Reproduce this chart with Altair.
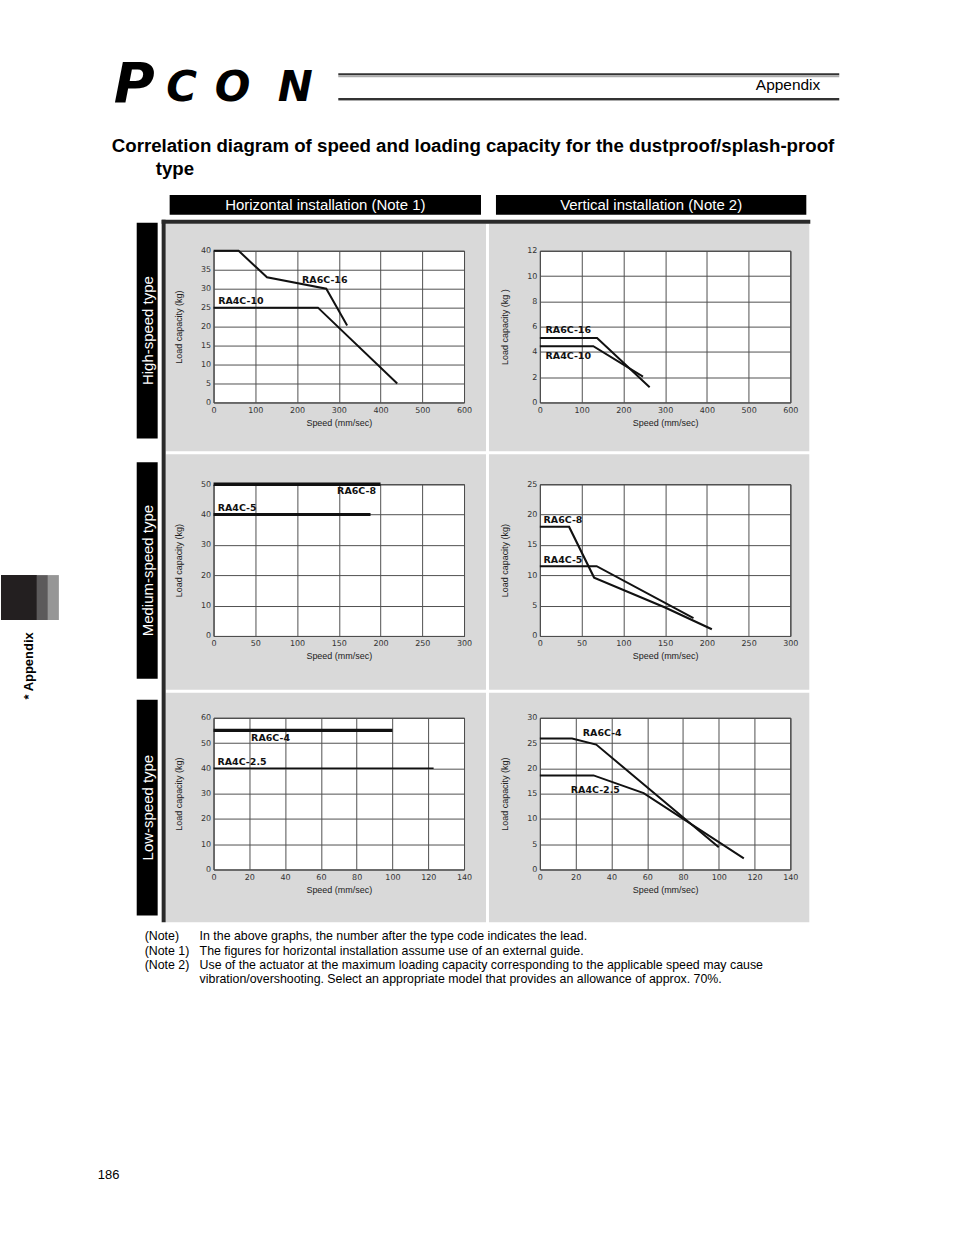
import altair as alt
import pandas as pd

# ---------------- data ----------------
X_TICKS_HIGH = [0, 100, 200, 300, 400, 500, 600]
X_TICKS_MED = [0, 50, 100, 150, 200, 250, 300]
X_TICKS_LOW = [0, 20, 40, 60, 80, 100, 120, 140]
Y_TICKS_HIGH_H = [0, 5, 10, 15, 20, 25, 30, 35, 40]
Y_TICKS_HIGH_V = [0, 2, 4, 6, 8, 10, 12]
Y_TICKS_MED_H = [0, 10, 20, 30, 40, 50]
Y_TICKS_MED_V = [0, 5, 10, 15, 20, 25]
Y_TICKS_LOW_H = [0, 10, 20, 30, 40, 50, 60]
Y_TICKS_LOW_V = [0, 5, 10, 15, 20, 25, 30]

# High-speed type, horizontal installation
HH_RA6C16_SPEED = [0, 60, 128, 270, 320]
HH_RA6C16_LOAD = [40, 40, 33, 30, 20.3]
HH_RA4C10_SPEED = [0, 250, 440]
HH_RA4C10_LOAD = [25, 25, 5]
# High-speed type, vertical installation
HV_RA6C16_SPEED = [0, 137, 263]
HV_RA6C16_LOAD = [5.1, 5.1, 1.2]
HV_RA4C10_SPEED = [0, 128, 247]
HV_RA4C10_LOAD = [4.45, 4.45, 2.05]
# Medium-speed type, horizontal installation
MH_RA6C8_SPEED = [0, 200]
MH_RA6C8_LOAD = [50, 50]
MH_RA4C5_SPEED = [0, 188]
MH_RA4C5_LOAD = [40, 40]
# Medium-speed type, vertical installation
MV_RA6C8_SPEED = [0, 35, 65, 150, 206]
MV_RA6C8_LOAD = [18, 18, 9.6, 4.7, 1.1]
MV_RA4C5_SPEED = [0, 68, 184]
MV_RA4C5_LOAD = [11.5, 11.5, 2.95]
# Low-speed type, horizontal installation
LH_RA6C4_SPEED = [0, 100]
LH_RA6C4_LOAD = [55, 55]
LH_RA4C25_SPEED = [0, 123]
LH_RA4C25_LOAD = [40, 40]
# Low-speed type, vertical installation
LV_RA6C4_SPEED = [0, 18, 31.5, 100]
LV_RA6C4_LOAD = [25.9, 25.9, 24.7, 4.4]
LV_RA4C25_SPEED = [0, 30, 58, 114]
LV_RA4C25_LOAD = [18.6, 18.6, 15.1, 2.2]

# series label names and their anchor points (data units)
HH_NAMES = ["RA6C-16", "RA4C-10"]
HH_LABEL_SPEED = [212, 11]
HH_LABEL_LOAD = [32.4, 26.8]
HV_NAMES = ["RA6C-16", "RA4C-10"]
HV_LABEL_SPEED = [13.6, 13.6]
HV_LABEL_LOAD = [5.7, 3.65]
MH_NAMES = ["RA6C-8", "RA4C-5"]
MH_LABEL_SPEED = [148, 5]
MH_LABEL_LOAD = [47.8, 42.3]
MV_NAMES = ["RA6C-8", "RA4C-5"]
MV_LABEL_SPEED = [4.4, 4.4]
MV_LABEL_LOAD = [19.1, 12.5]
LH_NAMES = ["RA6C-4", "RA4C-2.5"]
LH_LABEL_SPEED = [21, 2.2]
LH_LABEL_LOAD = [52.1, 42.4]
LV_NAMES = ["RA6C-4", "RA4C-2.5"]
LV_LABEL_SPEED = [24, 17.3]
LV_LABEL_LOAD = [27, 15.7]

# ---------------- layout ----------------
ONE = pd.DataFrame({"k": [0]})
PW, PH = 251, 152
COL_GAP, ROW_GAP = 76, 82
DECO_H = 1
# the decoration cell sits one grid row above the first panel (page x 213, y 249)
OX, OY = 213, 249 - ROW_GAP - DECO_H
PANEL_GRAY = "#d9d9d9"
FONT = "Liberation Sans"
HIDDEN_VIEW = alt.ViewBackground(fill="transparent", stroke="transparent")
PLOT_VIEW = alt.ViewBackground(fill="white", stroke="#222", strokeWidth=1)


def rect(x1, y1, x2, y2, color):
    return alt.Chart(ONE).mark_rect(color=color, strokeWidth=0).encode(
        x=alt.value(x1 - OX), x2=alt.value(x2 - OX),
        y=alt.value(y1 - OY), y2=alt.value(y2 - OY))


def txt(s, x, y, size, color="#000", weight="normal", align="left",
        baseline="alphabetic", angle=0, font=FONT, style="normal"):
    kw = dict(text=s, fontSize=size, color=color, fontWeight=weight, align=align,
              baseline=baseline, font=font, fontStyle=style)
    if angle:
        kw["angle"] = angle
    return alt.Chart(ONE).mark_text(**kw).encode(x=alt.value(x - OX), y=alt.value(y - OY))


def xaxis(ticks):
    return alt.Axis(values=ticks, title="Speed (mm/sec)", grid=True, gridColor="#505050",
                    gridWidth=1, ticks=False, domain=False, labelFlush=False,
                    labelOverlap=False, labelFont="DejaVu Sans", labelFontSize=8,
                    labelColor="#333", labelPadding=4, titleFont=FONT, titleFontSize=9,
                    titleFontWeight="normal", titleColor="#222", titlePadding=4)


def yaxis(ticks, title):
    return alt.Axis(values=ticks, title=title, grid=True, gridColor="#505050",
                    gridWidth=1, ticks=False, domain=False, labelFlush=False,
                    labelOverlap=False, labelFont="DejaVu Sans", labelFontSize=8,
                    labelColor="#333", labelPadding=3, titleFont=FONT, titleFontSize=9,
                    titleFontWeight="normal", titleColor="#222", titlePadding=17)


def panel(series, names, lx, ly, xdom, xticks, ydom, yticks, ytitle="Load capacity (kg)"):
    xs = alt.Scale(domain=xdom, nice=False, zero=False)
    ys = alt.Scale(domain=ydom, nice=False, zero=False)
    layers = []
    for speeds, loads, width in series:
        df = pd.DataFrame({"speed": speeds, "load": loads})
        layers.append(alt.Chart(df).mark_line(color="#111", strokeWidth=width).encode(
            x=alt.X("speed:Q", scale=xs, axis=xaxis(xticks)),
            y=alt.Y("load:Q", scale=ys, axis=yaxis(yticks, ytitle))))
    ldf = pd.DataFrame({"name": names, "speed": lx, "load": ly})
    layers.append(alt.Chart(ldf).mark_text(align="left", baseline="middle", font="DejaVu Sans",
                                           fontWeight="bold", fontSize=9.5, color="#111").encode(
        x=alt.X("speed:Q", scale=xs, axis=xaxis(xticks)),
        y=alt.Y("load:Q", scale=ys, axis=yaxis(yticks, ytitle)),
        text="name:N"))
    return alt.layer(*layers).properties(width=PW, height=PH, view=PLOT_VIEW)


# page decorations, positioned in page pixels
deco = alt.layer(
    rect(0, 0, 954, 1235, "white"),
    # grey panels
    rect(165, 222, 486, 450, PANEL_GRAY),
    rect(489, 222, 810, 450, PANEL_GRAY),
    rect(165, 453, 486, 689, PANEL_GRAY),
    rect(489, 453, 810, 689, PANEL_GRAY),
    rect(165, 692, 486, 922, PANEL_GRAY),
    rect(489, 692, 810, 922, PANEL_GRAY),
    # frame
    rect(161, 218, 165, 922, "#2a2a2a"),
    rect(161, 218, 811, 222, "#2a2a2a"),
    # logo and header lines
    txt("P", 113, 100, 56, weight="bold", style="italic", font="DejaVu Sans"),
    txt("C", 181, 99, 42, weight="bold", style="italic", align="center", font="DejaVu Sans"),
    txt("O", 232, 99, 42, weight="bold", style="italic", align="center", font="DejaVu Sans"),
    txt("N", 295, 99, 42, weight="bold", style="italic", align="center", font="DejaVu Sans"),
    rect(338, 71, 840, 73, "#333333"),
    rect(338, 73, 840, 75, "#aaaaaa"),
    rect(338, 96, 840, 98, "#333333"),
    rect(338, 98, 840, 99, "#aaaaaa"),
    txt("Appendix", 821, 88, 15.5, align="right"),
    # title
    txt("Correlation diagram of speed and loading capacity for the dustproof/splash-proof",
        111, 150, 18.7, weight="bold"),
    txt("type", 155, 173, 18.7, weight="bold"),
    # column headers
    rect(169, 193, 481, 213, "black"),
    rect(496, 193, 807, 213, "black"),
    txt("Horizontal installation (Note 1)", 325, 203.5, 15, color="white", align="center",
        baseline="middle"),
    txt("Vertical installation (Note 2)", 651.5, 203.5, 15, color="white", align="center",
        baseline="middle"),
    # row labels
    rect(136, 221, 157, 437, "black"),
    rect(136, 461, 157, 678, "black"),
    rect(136, 699, 157, 915, "black"),
    txt("High-speed type", 147, 329, 15, color="white", align="center", baseline="middle",
        angle=270),
    txt("Medium-speed type", 147, 569.5, 15, color="white", align="center",
        baseline="middle", angle=270),
    txt("Low-speed type", 147, 807, 15, color="white", align="center", baseline="middle",
        angle=270),
    # side tab
    rect(0, 574, 36, 619, "#231f20"),
    rect(36, 574, 47, 619, "#5c5a5b"),
    rect(47, 574, 58, 619, "#969696"),
    txt("* Appendix", 28, 665, 13, weight="bold", align="center", baseline="middle",
        angle=270),
    # notes
    txt("(Note)", 144, 940, 12.4),
    txt("In the above graphs, the number after the type code indicates the lead.", 199, 940,
        12.4),
    txt("(Note 1)", 144, 955, 12.4),
    txt("The figures for horizontal installation assume use of an external guide.", 199, 955,
        12.4),
    txt("(Note 2)", 144, 969, 12.4),
    txt("Use of the actuator at the maximum loading capacity corresponding to the applicable "
        "speed may cause", 199, 969, 12.4),
    txt("vibration/overshooting. Select an appropriate model that provides an allowance of "
        "approx. 70%.", 199, 983, 12.4),
    txt("186", 97, 1179, 13),
).properties(width=PW, height=DECO_H, view=HIDDEN_VIEW)

spacer = alt.Chart(ONE).mark_point(opacity=0).encode(
    x=alt.value(0), y=alt.value(0)
).properties(width=PW, height=DECO_H, view=HIDDEN_VIEW)

p1 = panel([(HH_RA6C16_SPEED, HH_RA6C16_LOAD, 2), (HH_RA4C10_SPEED, HH_RA4C10_LOAD, 2)],
           HH_NAMES, HH_LABEL_SPEED, HH_LABEL_LOAD, [0, 600], X_TICKS_HIGH, [0, 40],
           Y_TICKS_HIGH_H)
p2 = panel([(HV_RA6C16_SPEED, HV_RA6C16_LOAD, 2), (HV_RA4C10_SPEED, HV_RA4C10_LOAD, 2)],
           HV_NAMES, HV_LABEL_SPEED, HV_LABEL_LOAD, [0, 600], X_TICKS_HIGH, [0, 12],
           Y_TICKS_HIGH_V, ytitle="Load capacity (kg )")
p3 = panel([(MH_RA6C8_SPEED, MH_RA6C8_LOAD, 3.5), (MH_RA4C5_SPEED, MH_RA4C5_LOAD, 3)],
           MH_NAMES, MH_LABEL_SPEED, MH_LABEL_LOAD, [0, 300], X_TICKS_MED, [0, 50],
           Y_TICKS_MED_H)
p4 = panel([(MV_RA6C8_SPEED, MV_RA6C8_LOAD, 2.2), (MV_RA4C5_SPEED, MV_RA4C5_LOAD, 2)],
           MV_NAMES, MV_LABEL_SPEED, MV_LABEL_LOAD, [0, 300], X_TICKS_MED, [0, 25],
           Y_TICKS_MED_V)
p5 = panel([(LH_RA6C4_SPEED, LH_RA6C4_LOAD, 3.2), (LH_RA4C25_SPEED, LH_RA4C25_LOAD, 1.5)],
           LH_NAMES, LH_LABEL_SPEED, LH_LABEL_LOAD, [0, 140], X_TICKS_LOW, [0, 60],
           Y_TICKS_LOW_H)
p6 = panel([(LV_RA6C4_SPEED, LV_RA6C4_LOAD, 2), (LV_RA4C25_SPEED, LV_RA4C25_LOAD, 2)],
           LV_NAMES, LV_LABEL_SPEED, LV_LABEL_LOAD, [0, 140], X_TICKS_LOW, [0, 30],
           Y_TICKS_LOW_V)

chart = alt.concat(deco, spacer, p1, p2, p3, p4, p5, p6, columns=2,
                   spacing={"row": ROW_GAP, "column": COL_GAP}, bounds="flush").properties(
    background="white", padding=0
).configure_view(stroke="transparent")

chart.save("out.html", embed_options={"renderer": "svg", "actions": False})
